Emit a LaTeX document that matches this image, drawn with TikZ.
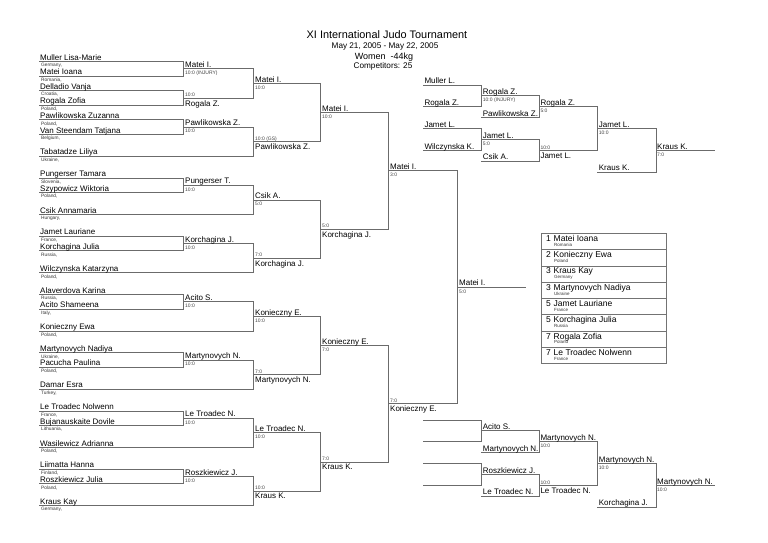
\documentclass[tikz,border=0pt]{standalone}
\usepackage{fontspec}
\setmainfont{Liberation Sans}
\usepackage{tikz}
\usetikzlibrary{positioning}

\begin{document}
\begin{tikzpicture}[x=1pt, y=-1pt,
    bline/.style={draw=black!58, line width=1pt, line cap=rect},
    pname/.style={inner sep=0pt, font=\fontsize{8}{9}\selectfont},
    ctry/.style={inner sep=0pt, font=\fontsize{4.8}{5.5}\selectfont, text=black!80},
    score/.style={inner sep=0pt, font=\fontsize{5}{6}\selectfont, text=black!75},
    tname/.style={inner sep=0pt, anchor=base west, font=\fontsize{8.5}{10}\selectfont},
    tctry/.style={inner sep=0pt, font=\fontsize{4.5}{5}\selectfont, text=black!80}]

    \useasboundingbox (0,0) rectangle (768,543);

    % =========================================================================
    % HEADER
    % =========================================================================
    \node[anchor=base, font=\fontsize{10.9}{12}\selectfont] (title) at (387,38.3) {XI International Judo Tournament};
    \node[anchor=base, font=\fontsize{8.2}{10}\selectfont] (dates) at (385,48.6) {May 21, 2005 - May 22, 2005};
    \node[anchor=base, font=\fontsize{9}{10}\selectfont] (weight) at (384,59.2) {Women\ \ -44kg};
    \node[anchor=base, font=\fontsize{8.2}{10}\selectfont] (entries) at (383,68.6) {Competitors: 25};

    % =========================================================================
    % MAIN DRAW (one row = 7.28pt)
    % =========================================================================
    \begin{scope}[y=-7.28pt, shift={(0pt,-61.7pt)}]
        % Pools of the first round
        \foreach \a in {0,4,8,16,24,32,40,48,56}
            \draw[bline] (39,\a) -- (183,\a) -- (183,\a+2) -- (39,\a+2);
        \foreach \a in {1,5,9,17,25,33,41,49,57}
            \draw[bline] (183,\a) -- (253,\a);
        \foreach \a in {13,21,29,37,45,53,61}
            \draw[bline] (39,\a) -- (253,\a);

        % Later rounds
        \foreach \a in {0,...,7}
            \draw[bline] (253,8*\a+1) -- (253,8*\a+5) (253,8*\a+3) -- (320,8*\a+3);
        \foreach \a in {0,...,3}
            \draw[bline] (320,16*\a+3) -- (320,16*\a+11) (320,16*\a+7) -- (388,16*\a+7);
        \foreach \a in {0,1}
            \draw[bline] (388,32*\a+7) -- (388,32*\a+23) (388,32*\a+15) -- (457,32*\a+15);
        \draw[bline] (457,15) -- (457,47) (457,31) -- (525,31);

        % Competitors
        \foreach \r/\nm/\cy in {0/Muller Lisa-Marie/Germany, 2/Matei Ioana/Romania,
                4/Delladio Vanja/Croatia, 6/Rogala Zofia/Poland,
                8/Pawlikowska Zuzanna/Poland, 10/Van Steendam Tatjana/Belgium,
                13/Tabatadze Liliya/Ukraine, 16/Pungerser Tamara/Slovenia,
                18/Szypowicz Wiktoria/Poland, 21/Csik Annamaria/Hungary,
                24/Jamet Lauriane/France, 26/Korchagina Julia/Russia,
                29/Wilczynska Katarzyna/Poland, 32/Alaverdova Karina/Russia,
                34/Acito Shameena/Italy, 37/Konieczny Ewa/Poland,
                40/Martynovych Nadiya/Ukraine, 42/Pacucha Paulina/Poland,
                45/Damar Esra/Turkey, 48/Le Troadec Nolwenn/France,
                50/Bujanauskaite Dovile/Lithuania, 53/Wasilewicz Adrianna/Poland,
                56/Liimatta Hanna/Finland, 58/Roszkiewicz Julia/Poland,
                61/Kraus Kay/Germany} {
            \node[pname, anchor=base west, yshift=1.5pt] (p\r) at (40,\r) {\nm};
            \node[ctry, below right=3pt and 1pt of p\r.base west] (c\r) {\cy,};
        }

        % Winners going up (name over the line)
        \foreach \r/\xs/\nm/\sc in {1/183/Matei I./10:0 (INJURY), 3/253/Matei I./10:0,
                9/183/Pawlikowska Z./10:0, 7/320/Matei I./10:0,
                17/183/Pungerser T./10:0, 19/253/Csik A./5:0,
                25/183/Korchagina J./10:0, 15/388/Matei I./3:0,
                33/183/Acito S./10:0, 35/253/Konieczny E./10:0,
                41/183/Martynovych N./10:0, 39/320/Konieczny E./7:0,
                49/183/Le Troadec N./10:0, 51/253/Le Troadec N./10:0,
                57/183/Roszkiewicz J./10:0, 31/457/Matei I./5:0} {
            \node[pname, anchor=base west, yshift=1.5pt] (w\r) at (\xs+2,\r) {\nm};
            \node[score, anchor=north west, yshift=-2pt] (s\r) at (\xs+2,\r) {\sc};
        }

        % Winners going down (name under the line)
        \foreach \r/\xs/\nm/\sc in {5/183/Rogala Z./10:0, 11/253/Pawlikowska Z./10:0 (GS),
                27/253/Korchagina J./7:0, 23/320/Korchagina J./5:0,
                43/253/Martynovych N./7:0, 59/253/Kraus K./10:0,
                55/320/Kraus K./7:0, 47/388/Konieczny E./7:0} {
            \node[score, anchor=base west, yshift=1.5pt] (s\r) at (\xs+2,\r) {\sc};
            \node[pname, anchor=north west, yshift=-2pt] (w\r) at (\xs+2,\r) {\nm};
        }
    \end{scope}

    % =========================================================================
    % REPECHAGE BRACKETS
    % =========================================================================
    \foreach \yb in {85,420} {
        \begin{scope}[y=-7.28pt, shift={(0pt,-\yb pt)}]
            \draw[bline] (423.3,0) -- (481.7,0) -- (481.7,3) -- (423.3,3)
                         (423.3,6) -- (481.7,6) -- (481.7,9) -- (423.3,9);
            \draw[bline] (481.7,1.5) -- (539.3,1.5) -- (539.3,4.5) -- (481.7,4.5)
                         (481.7,7.5) -- (539.3,7.5) -- (539.3,10.5) -- (481.7,10.5);
            \draw[bline] (539.3,3) -- (597.7,3) -- (597.7,9) -- (539.3,9);
            \draw[bline] (597.7,6) -- (656,6) -- (656,12) -- (597.7,12) (656,9) -- (714,9);
        \end{scope}
    }

    % Upper repechage
    \begin{scope}[y=-7.28pt, shift={(0pt,-85pt)}]
        \foreach \r/\xs/\nm [count=\i] in {0/423.3/Muller L., 3/423.3/Rogala Z.,
                1.5/481.7/Rogala Z., 4.5/481.7/Pawlikowska Z., 3/539.3/Rogala Z.,
                6/423.3/Jamet L., 9/423.3/Wilczynska K., 7.5/481.7/Jamet L.,
                10.5/481.7/Csik A., 6/597.7/Jamet L., 12/597.7/Kraus K., 9/656/Kraus K.}
            \node[pname, anchor=base west, yshift=1.5pt] (ua\i) at (\xs+1,\r) {\nm};
        \foreach \r/\xs/\sc [count=\i] in {1.5/481.7/10:0 (INJURY), 3/539.3/5:0,
                7.5/481.7/5:0, 6/597.7/10:0, 9/656/7:0}
            \node[score, anchor=north west, yshift=-2pt] (us\i) at (\xs+1,\r) {\sc};
        \node[score, anchor=base west, yshift=1.5pt] (us6) at (540.3,9) {10:0};
        \node[pname, anchor=north west, yshift=-2pt] (ua13) at (540.3,9) {Jamet L.};
    \end{scope}

    % Lower repechage
    \begin{scope}[y=-7.28pt, shift={(0pt,-420pt)}]
        \foreach \r/\xs/\nm [count=\i] in {1.5/481.7/Acito S., 4.5/481.7/Martynovych N.,
                3/539.3/Martynovych N., 7.5/481.7/Roszkiewicz J., 10.5/481.7/Le Troadec N.,
                6/597.7/Martynovych N., 12/597.7/Korchagina J., 9/656/Martynovych N.}
            \node[pname, anchor=base west, yshift=1.5pt] (la\i) at (\xs+1,\r) {\nm};
        \foreach \r/\xs/\sc [count=\i] in {3/539.3/10:0, 6/597.7/10:0, 9/656/10:0}
            \node[score, anchor=north west, yshift=-2pt] (ls\i) at (\xs+1,\r) {\sc};
        \node[score, anchor=base west, yshift=1.5pt] (ls4) at (540.3,9) {10:0};
        \node[pname, anchor=north west, yshift=-2pt] (la9) at (540.3,9) {Le Troadec N.};
    \end{scope}

    % =========================================================================
    % FINAL STANDINGS
    % =========================================================================
    \foreach \pl/\nm/\cy [count=\i] in {1/Matei Ioana/Romania, 2/Konieczny Ewa/Poland,
            3/Kraus Kay/Germany, 3/Martynovych Nadiya/Ukraine, 5/Jamet Lauriane/France,
            5/Korchagina Julia/Russia, 7/Rogala Zofia/Poland, 7/Le Troadec Nolwenn/France} {
        \draw[draw=black!55, line width=0.8pt] (541.7,{233.3+16.3*(\i-1)}) rectangle +(124.3,16.3);
        \node[tname] (rk\i) at (546,{233.3+16.3*(\i-1)+8}) {\pl};
        \node[tname] (tn\i) at (553.5,{233.3+16.3*(\i-1)+8}) {\nm};
        \node[tctry, below right=1.4pt and 0.3pt of tn\i.base west] (tc\i) {\cy};
    }

\end{tikzpicture}
\end{document}
